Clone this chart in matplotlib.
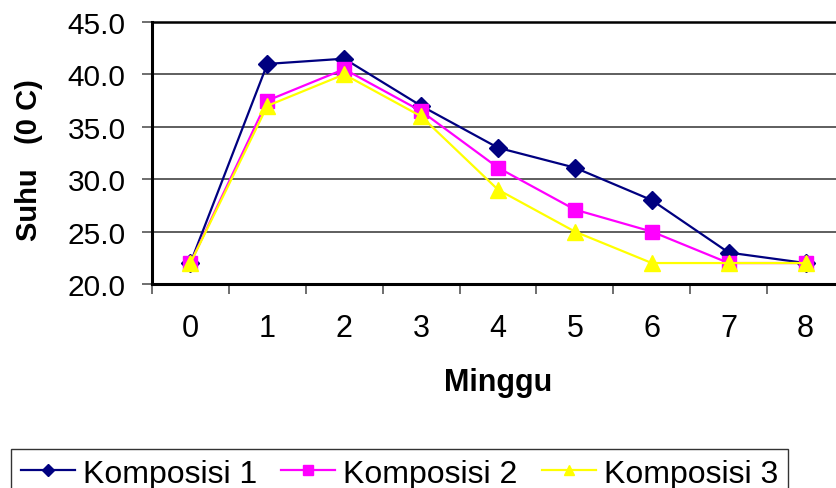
import matplotlib
matplotlib.use("Agg")
import matplotlib.pyplot as plt
from matplotlib.ticker import FixedLocator

weeks = [0, 1, 2, 3, 4, 5, 6, 7, 8]
week_labels = ["0", "1", "2", "3", "4", "5", "6", "7", "8"]
komposisi_1 = [22.0, 41.0, 41.5, 37.0, 33.0, 31.1, 28.0, 23.0, 22.0]
komposisi_2 = [22.0, 37.5, 40.5, 36.5, 31.1, 27.1, 25.0, 22.0, 22.0]
komposisi_3 = [22.0, 37.0, 40.0, 36.0, 29.0, 25.0, 22.0, 22.0, 22.0]
y_ticks = [20.0, 25.0, 30.0, 35.0, 40.0, 45.0]

plt.rcParams["font.family"] = ["Liberation Sans", "DejaVu Sans"]

W, H = 836, 489
fig = plt.figure(figsize=(W / 100, H / 100), dpi=100)
ax = fig.add_axes([152 / W, (H - 285) / H, (844 - 152) / W, (285 - 23) / H])

series = [
    (komposisi_1, "#000080", "D", 9, "Komposisi 1"),
    (komposisi_2, "#FF00FF", "s", 10, "Komposisi 2"),
    (komposisi_3, "#FFFF00", "^", 11, "Komposisi 3"),
]
for vals, col, mk, ms, lab in series:
    ax.plot(weeks, vals, color=col, marker=mk, markersize=ms, lw=1.6,
            markeredgecolor=col, label=lab, clip_on=False, zorder=3)

ax.set_xlim(-0.5, 8.5)
ax.set_ylim(20, 45)
ax.set_yticks(y_ticks)
ax.set_yticklabels([f"{v:.1f}" for v in y_ticks], fontsize=21.5)
ax.yaxis.grid(True, color="#333333", lw=1.1)
ax.set_axisbelow(True)

# category axis: tick marks between categories, labels centred on categories
ax.xaxis.set_major_locator(FixedLocator([w - 0.5 for w in weeks] + [8.5]))
ax.xaxis.set_minor_locator(FixedLocator(weeks))
ax.set_xticklabels([], minor=False)
ax.set_xticklabels(week_labels, minor=True, fontsize=22)
ax.tick_params(axis="x", which="major", length=7, width=1.2, color="#555555", direction="out")
ax.tick_params(axis="x", which="minor", length=0, pad=21)
ax.tick_params(axis="y", length=7, width=1.2, color="#555555", direction="out", pad=12)

for s in ["left", "bottom"]:
    ax.spines[s].set_linewidth(2.2)
    ax.spines[s].set_color("black")
ax.spines["top"].set_linewidth(1.8)
ax.spines["right"].set_visible(False)

fig.text(498 / W, 1 - 383 / H, "Minggu", ha="center", va="center",
         fontsize=22, fontweight="bold")
fig.text(29 / W, 1 - 160 / H, "Suhu   (0 C)", ha="center", va="center",
         rotation=90, fontsize=21, fontweight="bold")

leg = fig.legend(loc="upper left", bbox_to_anchor=(11 / W, 1 - 450 / H),
                 ncol=3, fontsize=23, frameon=True, fancybox=False,
                 edgecolor="black", handlelength=1.7, handletextpad=0.25,
                 columnspacing=0.75, borderpad=0.3, borderaxespad=0,
                 markerscale=0.7)
leg.get_frame().set_linewidth(1.0)

fig.savefig("out.png", dpi=100)
